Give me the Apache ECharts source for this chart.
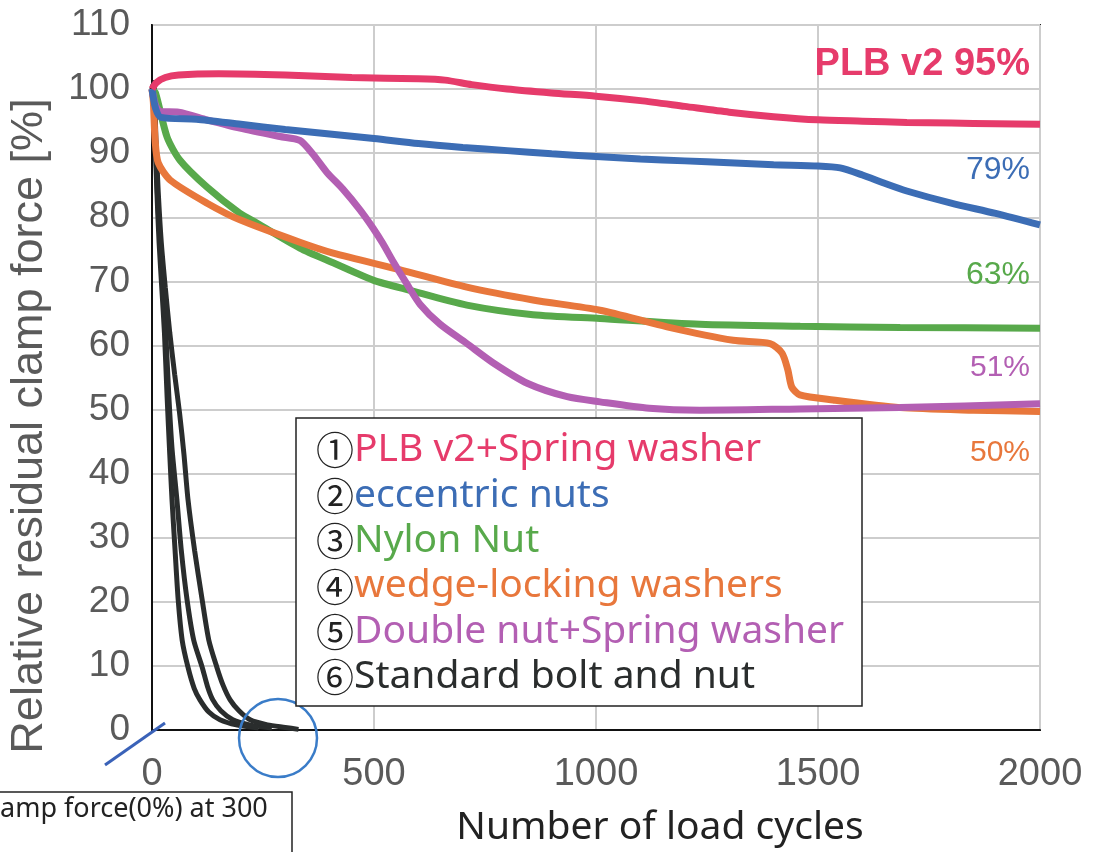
<!DOCTYPE html>
<html>
<head>
<meta charset="utf-8">
<script src="https://cdn.jsdelivr.net/npm/echarts@6/dist/echarts.min.js"></script>
<style>
  html, body { margin: 0; padding: 0; background: #fff; }
  #chart { width: 1094px; height: 852px; }
</style>
</head>
<body>
<div id="chart"></div>
<script>
// x = load cycles, y = relative residual clamp force [%]
var plbV2 = [[0,100],[10,101],[30,101.8],[60,102.2],[150,102.4],[300,102.2],[450,101.8],[600,101.6],[660,101.4],[720,100.7],[800,100],[900,99.4],[1000,98.9],[1100,98.2],[1200,97.3],[1300,96.4],[1400,95.7],[1500,95.2],[1600,95],[1700,94.8],[1800,94.7],[1900,94.6],[2000,94.5]];
var eccentric = [[0,100],[8,97],[20,95.6],[100,95.3],[200,94.5],[300,93.7],[400,93],[500,92.3],[600,91.5],[700,90.9],[800,90.4],[900,89.9],[1000,89.5],[1100,89.1],[1200,88.8],[1300,88.5],[1400,88.2],[1500,88],[1550,87.7],[1600,86.6],[1650,85.3],[1700,84.1],[1800,82.2],[1900,80.6],[2000,78.8]];
var nylon = [[0,100],[8,99.4],[34,92.5],[63,88.9],[124,84.7],[198,80.6],[236,79.1],[333,75.2],[408,72.9],[498,70.2],[581,68.6],[709,66.3],[858,64.8],[1009,64.2],[1234,63.3],[1460,63],[1685,62.8],[2000,62.7]];
var wedge = [[0,100],[3,98],[7,92],[14,88.5],[41,85.8],[124,82.2],[198,79.6],[333,76.1],[408,74.4],[559,71.8],[709,69.1],[858,67.1],[1009,65.5],[1160,62.9],[1309,60.8],[1392,60.3],[1419,58.8],[1432,56.2],[1441,53.5],[1459,52.3],[1534,51.5],[1685,50.3],[1850,49.9],[2000,49.7]];
var doubleNut = [[0,100],[8,97.5],[18,96.5],[60,96.4],[124,95.2],[198,93.9],[288,92.6],[333,92],[363,89.8],[394,87],[430,84.4],[468,81.2],[498,78.3],[520,75.9],[543,73.1],[574,69.6],[604,66.4],[649,63.3],[709,60.3],[768,57.3],[845,54.1],[935,52],[1009,51.2],[1120,50.2],[1234,49.9],[1460,50.1],[1685,50.3],[2000,50.9]];
var standardA = [[0,100],[4,101],[7,92],[11,84],[16,76],[22,69],[28,62],[34,52],[40,43],[45,36],[52,28],[59,20.3],[68,14],[81,9.8],[95,6.5],[108,4.7],[128,2.8],[153,1.6],[190,0.8],[240,0.3]];
var standardB = [[0,100],[4,101],[8,92],[12,84],[18,76],[25,69],[31,62],[38,52],[45,44],[56,36],[66,28],[79,20.3],[94,14],[113,9.8],[125,6.8],[137,4.7],[155,3],[182,1.6],[220,0.8],[270,0.3]];
var standardC = [[0,100],[4,101],[9,92],[14,84],[21,76],[30,69],[40,62],[51,55.5],[62,49.5],[72,43],[81,36],[96,28],[113,20.3],[128,14],[146,9.8],[160,7],[176,4.7],[196,3],[221,1.6],[260,0.8],[300,0.4],[330,0.1]];

var legendItems = ['PLB v2+Spring washer', 'eccentric nuts', 'Nylon Nut', 'wedge-locking washers', 'Double nut+Spring washer', 'Standard bolt and nut'];
var circled = ['①', '②', '③', '④', '⑤', '⑥'];
var endLabels = ['PLB v2 95%', '79%', '63%', '51%', '50%'];

var PINK = '#e63b6b', BLUE = '#3c6db5', GREEN = '#58a94b', ORANGE = '#e8773c', PURPLE = '#b35fb3', BLACK = '#2a2d2d';
var legendColors = [PINK, BLUE, GREEN, ORANGE, PURPLE, BLACK];
var endColors = [PINK, BLUE, GREEN, PURPLE, ORANGE];

var myChart = echarts.init(document.getElementById('chart'));

function line(name, data, color, width) {
    return {
        name: name,
        type: 'line',
        data: data,
        smooth: 0.25,
        symbol: 'none',
        lineStyle: { color: color, width: width },
        animation: false
    };
}

var numFont = '"Liberation Sans", Arial, sans-serif';
var textFont = '"Noto Sans", "Open Sans", sans-serif';
var circFont = '"Noto Sans CJK JP", "DejaVu Sans", sans-serif';

var legendGraphics = [];
legendGraphics.push({
    type: 'rect',
    shape: { x: 296, y: 418, width: 566, height: 288 },
    style: { fill: '#fff', stroke: '#222', lineWidth: 1.5 },
    z: 100
});
for (var i = 0; i < legendItems.length; i++) {
    legendGraphics.push({
        type: 'text',
        x: 316,
        y: 450 + i * 45.4,
        z: 101,
        style: {
            text: '{n|' + circled[i] + '}{t|' + legendItems[i] + '}',
            verticalAlign: 'middle',
            rich: {
                n: { fontFamily: circFont, fontSize: 38, fill: '#222' },
                t: { fontFamily: textFont, fontSize: 39, fill: legendColors[i] }
            }
        }
    });
}

var labelY = [65, 170, 275, 368, 453];
var labelSize = [38, 32, 32, 30, 30];
var endGraphics = endLabels.map(function (t, k) {
    return {
        type: 'text',
        x: 1030,
        y: labelY[k],
        z: 50,
        style: {
            text: t,
            align: 'right',
            verticalAlign: 'middle',
            fontFamily: numFont,
            fontSize: labelSize[k],
            fontWeight: k === 0 ? 'bold' : 'normal',
            fill: endColors[k]
        }
    };
});

option = {
    backgroundColor: '#fff',
    animation: false,
    grid: {
        left: 152, top: 25, width: 888, height: 705,
        show: true, borderColor: '#222', borderWidth: 2, backgroundColor: 'transparent'
    },
    xAxis: {
        type: 'value',
        min: 0, max: 2000, interval: 500,
        axisLine: { show: true, lineStyle: { color: '#111', width: 2 } },
        axisTick: { show: false },
        axisLabel: {
            color: '#5a5a5a', fontSize: 38, fontFamily: numFont, margin: 26,
            formatter: function (v) { return String(v); }
        },
        splitLine: { show: true, lineStyle: { color: '#cdcdcd', width: 2 } }
    },
    yAxis: {
        type: 'value',
        min: 0, max: 110, interval: 10,
        axisLine: { show: true, lineStyle: { color: '#111', width: 2 } },
        axisTick: { show: false },
        axisLabel: { color: '#5a5a5a', fontSize: 37, fontFamily: numFont, margin: 22 },
        splitLine: { show: true, lineStyle: { color: '#cdcdcd', width: 2 } }
    },
    series: [
        line('Standard bolt and nut', standardA, BLACK, 5),
        line('Standard bolt and nut', standardB, BLACK, 5),
        line('Standard bolt and nut', standardC, BLACK, 5),
        line('Nylon Nut', nylon, GREEN, 7),
        line('wedge-locking washers', wedge, ORANGE, 7),
        line('Double nut+Spring washer', doubleNut, PURPLE, 7),
        line('eccentric nuts', eccentric, BLUE, 7),
        line('PLB v2+Spring washer', plbV2, PINK, 7)
    ],
    graphic: [
        {
            type: 'text', x: 30, y: 426, rotation: Math.PI / 2,
            style: {
                text: 'Relative residual clamp force [%]',
                align: 'center', verticalAlign: 'middle',
                fontFamily: numFont, fontSize: 45, fill: '#5a5a5a'
            }
        },
        {
            type: 'text', x: 660, y: 828,
            style: {
                text: 'Number of load cycles',
                align: 'center', verticalAlign: 'middle',
                fontFamily: textFont, fontSize: 39, fill: '#222'
            }
        },
        {
            type: 'rect',
            shape: { x: -2, y: 792, width: 294, height: 70 },
            style: { fill: '#fff', stroke: '#222', lineWidth: 1.5 }
        },
        {
            type: 'text', x: 0, y: 809,
            style: {
                text: 'amp force(0%) at 300', verticalAlign: 'middle',
                fontFamily: textFont, fontSize: 27, fill: '#222'
            }
        },
        {
            type: 'line', z: 60,
            shape: { x1: 105, y1: 765, x2: 165, y2: 723 },
            style: { stroke: '#3a62b8', lineWidth: 3 }
        },
        {
            type: 'circle', z: 60,
            shape: { cx: 278, cy: 738, r: 39 },
            style: { fill: 'none', stroke: '#3a7cc8', lineWidth: 2.5 }
        }
    ].concat(endGraphics, legendGraphics)
};

myChart.setOption(option);
</script>
</body>
</html>
